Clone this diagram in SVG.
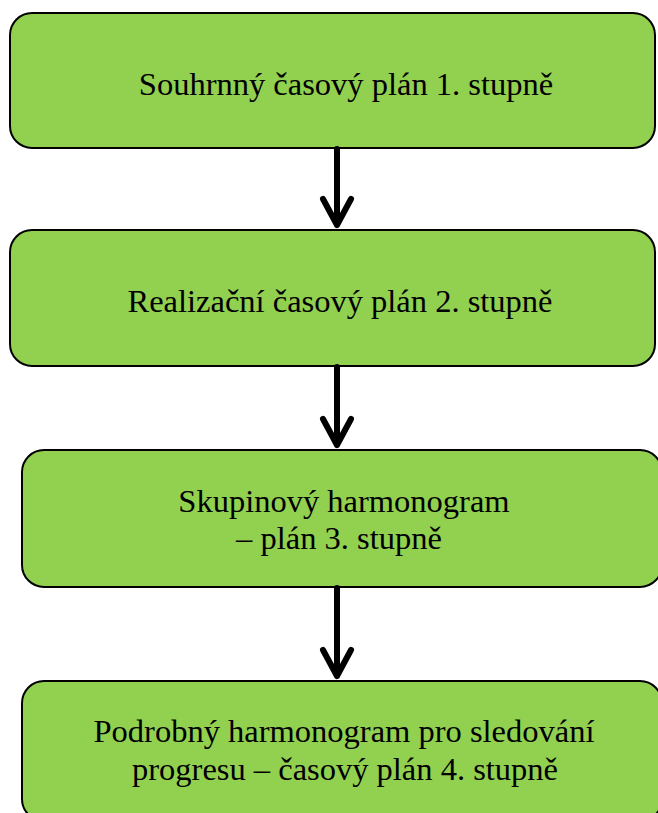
<svg xmlns="http://www.w3.org/2000/svg" width="658" height="813" viewBox="0 0 658 813">
  <style>
    .box { fill: #92D050; stroke: #000; stroke-width: 2; }
    .label { font-family: "Liberation Serif", "Times New Roman", serif; font-size: 32.5px; fill: #000; text-anchor: middle; }
    .link { fill: none; stroke: #000; stroke-width: 6; stroke-linecap: round; stroke-linejoin: round; }
  </style>
  <rect width="658" height="813" fill="#fff"/>

  <g id="node-1">
    <rect class="box" x="10" y="13" width="645" height="135" rx="22"/>
    <text class="label" x="346" y="95">Souhrnný časový plán 1. stupně</text>
  </g>
  <g id="node-2">
    <rect class="box" x="10" y="230" width="645" height="136" rx="22"/>
    <text class="label" x="340" y="312">Realizační časový plán 2. stupně</text>
  </g>
  <g id="node-3">
    <rect class="box" x="22" y="450" width="640" height="137" rx="22"/>
    <text class="label" x="344" y="512">Skupinový harmonogram</text>
    <text class="label" x="339" y="549">– plán 3. stupně</text>
  </g>
  <g id="node-4">
    <rect class="box" x="22" y="681" width="640" height="140" rx="22"/>
    <text class="label" x="344" y="742">Podrobný harmonogram pro sledování</text>
    <text class="label" x="345" y="780">progresu – časový plán 4. stupně</text>
  </g>

  <g id="connectors">
    <path class="link" d="M337 149 V225 M323 199 L337 225 L351 199"/>
    <path class="link" d="M337 367 V445 M323 419 L337 445 L351 419"/>
    <path class="link" d="M337 588 V676 M323 650 L337 676 L351 650"/>
  </g>
</svg>
